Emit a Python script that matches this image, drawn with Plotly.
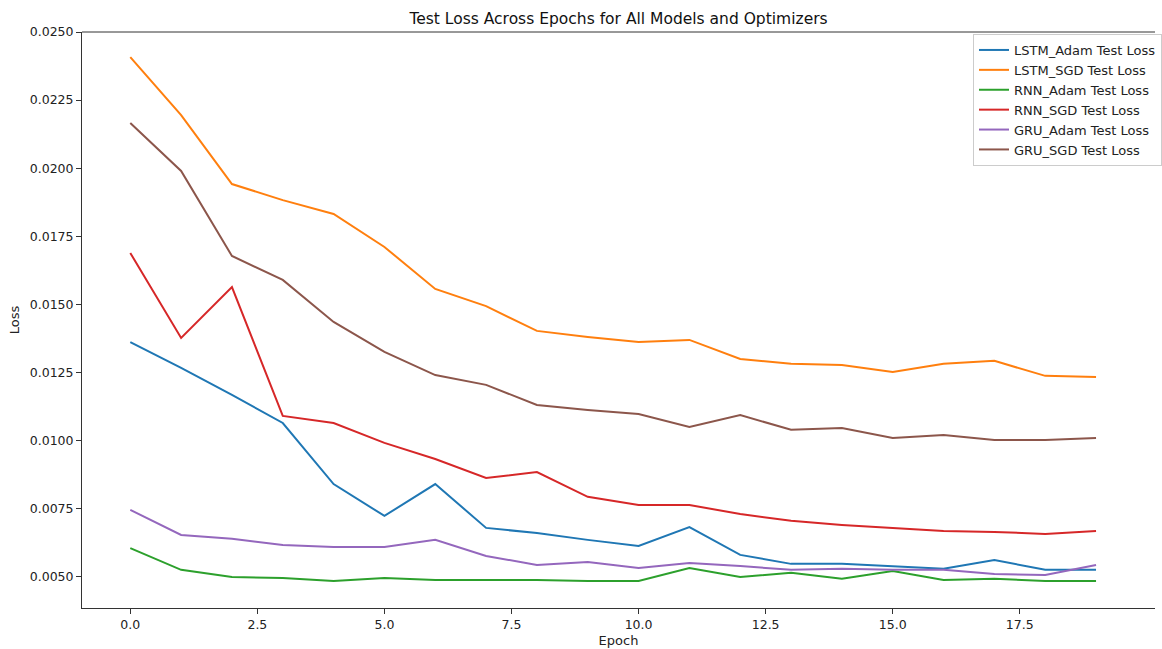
import plotly.graph_objects as go

epochs = list(range(20))

lstm_adam = [0.01362, 0.01267, 0.01168, 0.01065, 0.00841, 0.00724, 0.00841, 0.00680, 0.00661, 0.00636,
             0.00614, 0.00683, 0.00581, 0.00548, 0.00548, 0.00540, 0.00530, 0.00562, 0.00526, 0.00526]
lstm_sgd = [0.02408, 0.02195, 0.01942, 0.01883, 0.01832, 0.01711, 0.01557, 0.01494, 0.01403, 0.01381,
            0.01362, 0.01370, 0.01300, 0.01282, 0.01278, 0.01252, 0.01282, 0.01293, 0.01238, 0.01234]
rnn_adam = [0.00606, 0.00526, 0.00500, 0.00496, 0.00485, 0.00496, 0.00489, 0.00489, 0.00489, 0.00485,
            0.00485, 0.00533, 0.00500, 0.00515, 0.00493, 0.00522, 0.00489, 0.00493, 0.00485, 0.00485]
rnn_sgd = [0.01689, 0.01377, 0.01564, 0.01091, 0.01065, 0.00992, 0.00933, 0.00863, 0.00885, 0.00794,
           0.00764, 0.00764, 0.00731, 0.00706, 0.00691, 0.00680, 0.00669, 0.00665, 0.00658, 0.00669]
gru_adam = [0.00746, 0.00654, 0.00640, 0.00617, 0.00610, 0.00610, 0.00636, 0.00577, 0.00544, 0.00555,
            0.00533, 0.00551, 0.00540, 0.00526, 0.00530, 0.00526, 0.00526, 0.00511, 0.00507, 0.00544]
gru_sgd = [0.02166, 0.01990, 0.01678, 0.01590, 0.01436, 0.01326, 0.01241, 0.01205, 0.01131, 0.01113,
           0.01098, 0.01050, 0.01094, 0.01040, 0.01047, 0.01010, 0.01021, 0.01003, 0.01003, 0.01010]

series_names = ["LSTM_Adam Test Loss", "LSTM_SGD Test Loss", "RNN_Adam Test Loss",
                "RNN_SGD Test Loss", "GRU_Adam Test Loss", "GRU_SGD Test Loss"]
series_values = [lstm_adam, lstm_sgd, rnn_adam, rnn_sgd, gru_adam, gru_sgd]
colors = ["#1f77b4", "#ff7f0e", "#2ca02c", "#d62728", "#9467bd", "#8c564b"]

x_ticks = [0, 2.5, 5, 7.5, 10, 12.5, 15, 17.5]
x_tick_labels = ["0.0", "2.5", "5.0", "7.5", "10.0", "12.5", "15.0", "17.5"]
y_ticks = [0.005, 0.0075, 0.01, 0.0125, 0.015, 0.0175, 0.02, 0.0225, 0.025]
y_tick_labels = ["0.0050", "0.0075", "0.0100", "0.0125", "0.0150", "0.0175", "0.0200", "0.0225", "0.0250"]

fig = go.Figure()
for name, vals, c in zip(series_names, series_values, colors):
    fig.add_trace(go.Scatter(x=epochs, y=vals, mode="lines", name=name,
                             line=dict(color=c, width=2)))

font = "DejaVu Sans"
fig.update_layout(
    width=1162, height=649,
    margin=dict(l=82, r=0, t=32, b=41),
    paper_bgcolor="white", plot_bgcolor="white",
    font=dict(family=font, size=12, color="#222"),
    title=dict(text="Test Loss Across Epochs for All Models and Optimizers",
               x=0.5, xanchor="center", y=1 - 19 / 649, yanchor="middle",
               xref="paper",
               font=dict(family=font, size=15.5, color="#111")),
    showlegend=True,
    legend=dict(x=(979 - 82) / 1080, y=1 - (34 - 32) / 576, xanchor="left", yanchor="top",
                bgcolor="white", bordercolor="#cccccc", borderwidth=1,
                font=dict(family=font, size=13, color="#222"),
                tracegroupgap=0, itemwidth=30),
)
fig.update_xaxes(
    range=[-0.95, 20.16], tickvals=x_ticks, ticktext=x_tick_labels,
    showgrid=False, zeroline=False, showline=True, linecolor="#333", linewidth=1,
    mirror=False, ticks="outside", ticklen=5, tickcolor="#333",
    tickfont=dict(size=12.5),
    title=dict(text="Epoch", font=dict(family=font, size=13, color="#222"), standoff=4),
)
fig.update_yaxes(
    range=[0.00386, 0.025], tickvals=y_ticks, ticktext=y_tick_labels,
    showgrid=False, zeroline=False, showline=True, linecolor="#333", linewidth=1,
    ticks="outside", ticklen=5, tickcolor="#333",
    tickfont=dict(size=12.5),
    title=dict(text="Loss", font=dict(family=font, size=13, color="#222"), standoff=7),
)
# top spine
fig.add_shape(type="line", xref="paper", yref="paper", x0=0, x1=1, y0=1, y1=1,
              line=dict(color="#333", width=1))

fig.write_html("out.html", config={"displayModeBar": False},
               post_script="document.body.style.margin='0';document.body.style.overflow='hidden';")
